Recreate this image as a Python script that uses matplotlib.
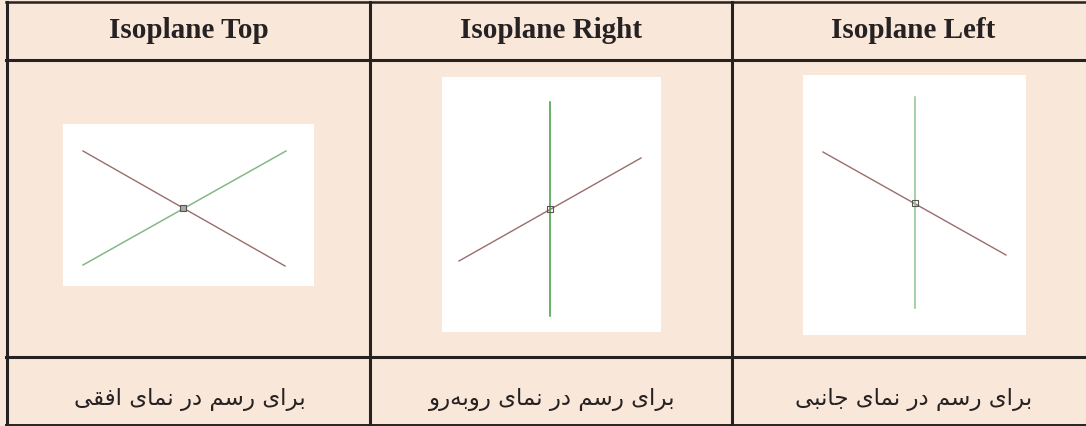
import numpy as np
import matplotlib
matplotlib.use("Agg")
import matplotlib.pyplot as plt

# column headers and Persian captions
headers = ["Isoplane Top", "Isoplane Right", "Isoplane Left"]
captions = ["برای رسم در نمای افقی", "برای رسم در نمای روبه\u200cرو", "برای رسم در نمای جانبی"]

# cross lines of each small screenshot, relative to the cursor centre (y up)
red_x0 = [-100, -91, -92]
red_y0 = [57, -52, 51]
red_x1 = [102, 91, 91]
red_y1 = [-58, 51, -52]
green_x0 = [-100, 0, 0]
green_y0 = [-57, 107, 106]
green_x1 = [103, 0, 0]
green_y1 = [57, -107, -105]
green_cols = ["#86b886", "#3f9b3f", "#8fc48f"]
red_col = "#9c6c6c"

# white screenshot boxes (pixels: left, top, right, bottom) and cursor centre
boxes = [(63, 125, 314, 287), (442, 78, 661, 333), (803, 76, 1026, 336)]
centres = [(183, 209), (550, 210), (915, 204)]

bg = "#f9e7d9"
ink = "#262223"

# --- tiny Persian shaper (matplotlib does no Arabic shaping) ---
forms = {
    "ب": ("\ufe8f", "\ufe90", "\ufe91", "\ufe92"),
    "ج": ("\ufe9d", "\ufe9e", "\ufe9f", "\ufea0"),
    "س": ("\ufeb1", "\ufeb2", "\ufeb3", "\ufeb4"),
    "ف": ("\ufed1", "\ufed2", "\ufed3", "\ufed4"),
    "ق": ("\ufed5", "\ufed6", "\ufed7", "\ufed8"),
    "م": ("\ufee1", "\ufee2", "\ufee3", "\ufee4"),
    "ن": ("\ufee5", "\ufee6", "\ufee7", "\ufee8"),
    "ه": ("\ufee9", "\ufeea", "\ufeeb", "\ufeec"),
    "ی": ("\ufeef", "\ufef0", "\ufef3", "\ufef4"),
    "ا": ("\ufe8d", "\ufe8e", None, None),
    "د": ("\ufea9", "\ufeaa", None, None),
    "ر": ("\ufead", "\ufeae", None, None),
    "و": ("\ufeed", "\ufeee", None, None),
}


def shape(s):
    out = []
    for i, c in enumerate(s):
        if c not in forms:
            if c != "\u200c":
                out.append(c)
            continue
        prev = s[i - 1] if i > 0 else ""
        nxt = s[i + 1] if i + 1 < len(s) else ""
        jp = prev in forms and forms[prev][2] is not None
        jn = forms[c][2] is not None and nxt in forms
        if jp and jn:
            out.append(forms[c][3])
        elif jp:
            out.append(forms[c][1])
        elif jn:
            out.append(forms[c][2])
        else:
            out.append(forms[c][0])
    return "".join(out[::-1])


W, H = 1086, 427
fig = plt.figure(figsize=(W / 100, H / 100), dpi=100)
fig.patch.set_facecolor(bg)
ax = fig.add_axes([0, 0, 1, 1])
ax.set_xlim(0, W)
ax.set_ylim(H, 0)
ax.axis("off")

# table grid
col_x = [7, 370, 732, 1094]
row_y = [3, 61, 358, 426]
x0 = col_x[0] - 1
ax.plot([x0, W], [row_y[0]] * 2, color=ink, lw=1.8)
ax.plot([x0, W], [row_y[1]] * 2, color=ink, lw=2.2)
ax.plot([x0, W], [row_y[2]] * 2, color=ink, lw=2.2)
ax.plot([x0, W], [row_y[3]] * 2, color=ink, lw=1.4)
for x in col_x[:3]:
    ax.plot([x, x], [row_y[0], row_y[3]], color=ink, lw=2.2)

for i in range(3):
    cx = (col_x[i] + col_x[i + 1]) / 2
    ax.text(cx, 31, headers[i], ha="center", va="center", fontsize=21,
            fontweight="bold", family="Liberation Serif", color=ink)
    ax.text(cx + 1, 400, shape(captions[i]), ha="center", va="center",
            fontsize=16.5, family="DejaVu Sans", color=ink)

    l, t, r, b = boxes[i]
    sub = fig.add_axes([l / W, 1 - b / H, (r - l) / W, (b - t) / H])
    sub.set_facecolor("white")
    ox, oy = centres[i]
    sub.set_xlim(l - ox, r - ox)
    sub.set_ylim(oy - b, oy - t)
    sub.set_xticks([])
    sub.set_yticks([])
    for s in sub.spines.values():
        s.set_visible(False)
    sub.plot([red_x0[i], red_x1[i]], [red_y0[i], red_y1[i]], color=red_col, lw=1.0)
    sub.plot([green_x0[i], green_x1[i]], [green_y0[i], green_y1[i]],
             color=green_cols[i], lw=1.1)
    sub.plot([0], [0], marker="s", ms=5, mfc="#a9a9a9" if i == 0 else "none",
             mec="#555555", mew=0.8)

fig.savefig("out.png", dpi=100, facecolor=bg)
